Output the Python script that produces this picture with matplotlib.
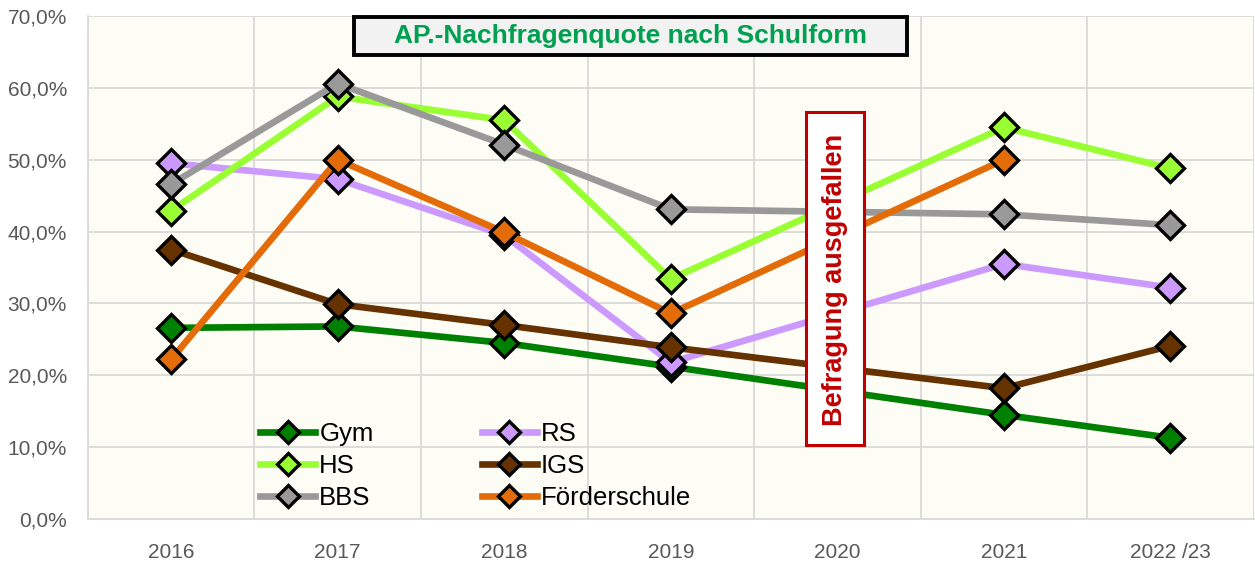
import numpy as np
import matplotlib.pyplot as plt
from matplotlib.patches import Rectangle
from matplotlib.ticker import FuncFormatter

# ------------------------------ DATA ------------------------------ #

years = ["2016", "2017", "2018", "2019", "2020", "2021", "2022 /23"]

# 2020: Befragung ausgefallen -> no values
gym = [26.6, 26.8, 24.5, 21.2, np.nan, 14.5, 11.3]
hs = [42.9, 58.8, 55.5, 33.4, np.nan, 54.5, 48.8]
bbs = [46.6, 60.6, 52.1, 43.1, np.nan, 42.4, 40.9]
rs = [49.5, 47.3, 39.5, 21.8, np.nan, 35.5, 32.2]
igs = [37.5, 29.9, 27.0, 23.9, np.nan, 18.2, 24.1]
foerder = [22.2, 50.0, 39.9, 28.6, np.nan, 50.0, np.nan]

series = [
    ("Gym", gym, "#008000"),
    ("RS", rs, "#CC99FF"),
    ("HS", hs, "#99FF33"),
    ("IGS", igs, "#663300"),
    ("BBS", bbs, "#999999"),
    ("Förderschule", foerder, "#E36C09"),
]

title = "AP.-Nachfragenquote nach Schulform"
note = "Befragung ausgefallen"

# ------------------------------------------------------------------ #

plt.rcParams["font.family"] = ["Liberation Sans", "DejaVu Sans"]

fig = plt.figure(figsize=(12.55, 5.62), dpi=100)
ax = fig.add_axes([0.070, 0.0765, 0.929, 0.895])
ax.set_facecolor("#FDFDF6")

x = np.arange(len(years))

# series order = drawing order (later ones on top)
handles = {}
for name, vals, color in series:
    vals = np.array(vals, dtype=float)
    mask = ~np.isnan(vals)
    (h,) = ax.plot(
        x[mask], vals[mask],
        color=color, lw=4.8, marker="D", markersize=14.5,
        markerfacecolor=color, markeredgecolor="black", markeredgewidth=2.4,
        solid_joinstyle="round", zorder=3,
    )
    handles[name] = h

ax.set_xlim(-0.5, len(years) - 0.5)
ax.set_ylim(0, 70)
ax.set_yticks(np.arange(0, 71, 10))
ax.yaxis.set_major_formatter(FuncFormatter(lambda v, p: f"{v:.1f}%".replace(".", ",")))
ax.set_xticks(x)
ax.set_xticklabels(years)
ax.set_xticks(np.arange(-0.5, len(years)), minor=True)
ax.tick_params(axis="both", which="both", length=0, labelsize=15, colors="#595959")
ax.tick_params(axis="x", pad=17)
ax.tick_params(axis="y", pad=15)

ax.grid(True, axis="y", which="major", color="#D9D9D9", lw=1.3, zorder=0)
ax.grid(True, axis="x", which="minor", color="#D9D9D9", lw=1.3, zorder=0)
ax.set_axisbelow(True)
for side, sp in ax.spines.items():
    sp.set_visible(side in ("left", "bottom"))
    sp.set_color("#D9D9D9")
    sp.set_linewidth(1.3)

# title box
ax.add_patch(Rectangle((1.10, 64.6), 3.32, 5.2, facecolor="#F2F2F2", edgecolor="black",
                       linewidth=2.8, zorder=6, clip_on=False))
ax.text(2.76, 67.2, title, ha="center", va="center", fontsize=19, fontweight="bold",
        color="#00A050", zorder=7)

# note box for 2020
ax.add_patch(Rectangle((3.81, 10.3), 0.35, 46.3, facecolor="white", edgecolor="#C00000",
                       linewidth=2.2, zorder=5))
ax.text(3.985, 33.3, note, rotation=90, ha="center", va="center", fontsize=19.5,
        fontweight="bold", color="#C00000", zorder=6)

legend_order = ["Gym", "RS", "HS", "IGS", "BBS", "Förderschule"]
# legend fills column-wise -> reorder so rows read Gym/RS, HS/IGS, BBS/Förderschule
col_major = legend_order[0::2] + legend_order[1::2]
ax.legend(
    [handles[n] for n in col_major], col_major,
    ncol=2, loc="lower left", bbox_to_anchor=(0.128, -0.028), frameon=False,
    fontsize=18.5, handlelength=2.15, columnspacing=4.2, labelspacing=0.32,
    handletextpad=0.15, markerscale=0.8,
)

fig.savefig("out.png", dpi=100)
